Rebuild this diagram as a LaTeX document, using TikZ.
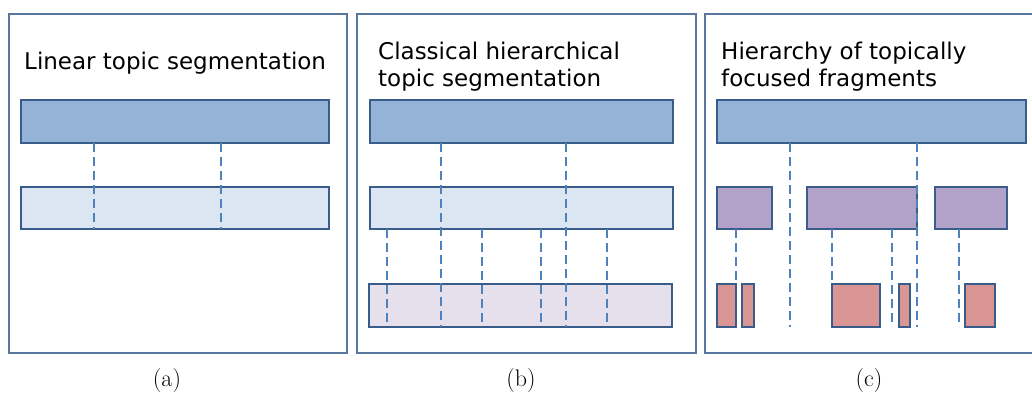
\documentclass[tikz,border=0pt]{standalone}
\usepackage{fontspec}
\newfontfamily\handfont{DejaVu Sans}
\usetikzlibrary{positioning}
\definecolor{barblue}{HTML}{95B3D7}
\definecolor{barlight}{HTML}{DCE6F2}
\definecolor{barlilac}{HTML}{E6E0EC}
\definecolor{barpurple}{HTML}{B3A2C7}
\definecolor{barred}{HTML}{D99694}
\definecolor{edgeblue}{HTML}{385D8A}
\definecolor{cutblue}{HTML}{4F81BD}
\definecolor{framegray}{HTML}{5A77A0}
\tikzset{
	panel/.style={draw=framegray, line width=1.4pt, anchor=north west, inner sep=0pt, outer sep=0pt, minimum height=339pt},
	bar/.style={draw=edgeblue, line width=1.8pt, anchor=north west, inner sep=0pt, outer sep=0pt},
	cut/.style={draw=cutblue, line width=2.8pt, dash pattern=on 9pt off 5pt},
	title/.style={anchor=north west, inner sep=0pt, align=left, font=\handfont\fontsize{23}{27}\selectfont},
	caption/.style={font=\fontsize{24}{28}\selectfont}
}

\begin{document}
\begin{tikzpicture}[x=1pt,y=-1pt]
\clip (0,0) rectangle (1032,394);

% frames
\node[panel, minimum width=338pt] (frameA) at (9,14) {};
\node[panel, minimum width=339pt] (frameB) at (357,14) {};
\node[panel, minimum width=340pt] (frameC) at (705,14) {};

\node[title] (titleA) at (24,52) {Linear topic segmentation};
\node[title] (titleB) at (378,42) {Classical hierarchical\\topic segmentation};
\node[title] (titleC) at (721,42) {Hierarchy of topically\\focused fragments};

% (a)
\node[bar, fill=barblue, minimum width=308pt, minimum height=43pt] (darkA) at (21,100) {};
\node[bar, fill=barlight, minimum width=308pt, minimum height=42pt] (lightA) at (21,187) {};

% (b)
\node[bar, fill=barblue, minimum width=303pt, minimum height=43pt] (darkB) at (370,100) {};
\node[bar, fill=barlight, minimum width=303pt, minimum height=42pt] (lightB) at (370,187) {};
\node[bar, fill=barlilac, minimum width=303pt, minimum height=43pt] (lilacB) at (369,284) {};

% (c)
\node[bar, fill=barblue, minimum width=309pt, minimum height=43pt] (darkC) at (717,100) {};
\node[bar, fill=barpurple, minimum width=55pt, minimum height=42pt] (midC1) at (717,187) {};
\node[bar, fill=barpurple, minimum width=110pt, minimum height=42pt] (midC2) at (807,187) {};
\node[bar, fill=barpurple, minimum width=72pt, minimum height=42pt] (midC3) at (935,187) {};
\node[bar, fill=barred, minimum width=19pt, minimum height=43pt] (lowC1) at (717,284) {};
\node[bar, fill=barred, minimum width=12pt, minimum height=43pt] (lowC2) at (742,284) {};
\node[bar, fill=barred, minimum width=48pt, minimum height=43pt] (lowC3) at (832,284) {};
\node[bar, fill=barred, minimum width=11pt, minimum height=43pt] (lowC4) at (899,284) {};
\node[bar, fill=barred, minimum width=30pt, minimum height=43pt] (lowC5) at (965,284) {};

% cut positions
\coordinate (xA1) at (94,0);
\coordinate (xA2) at (221,0);
\coordinate (xB1) at (441,0);
\coordinate (xB2) at (566,0);
\coordinate (xB3) at (387,0);
\coordinate (xB4) at (482,0);
\coordinate (xB5) at (541,0);
\coordinate (xB6) at (607,0);
\coordinate (xC1) at (790,0);
\coordinate (xC2) at (917,0);
\coordinate (xC3) at (736,0);
\coordinate (xC4) at (892,0);
\coordinate (xC5) at (959,0);

\draw[cut] (xA1 |- darkA.south) -- (xA1 |- lightA.south);
\draw[cut] (xA2 |- darkA.south) -- (xA2 |- lightA.south);

\draw[cut] (xB1 |- darkB.south) -- (xB1 |- lilacB.south);
\draw[cut] (xB2 |- darkB.south) -- (xB2 |- lilacB.south);
\draw[cut] (xB3 |- lightB.south) -- (xB3 |- lilacB.south);
\draw[cut] (xB4 |- lightB.south) -- (xB4 |- lilacB.south);
\draw[cut] (xB5 |- lightB.south) -- (xB5 |- lilacB.south);
\draw[cut] (xB6 |- lightB.south) -- (xB6 |- lilacB.south);

\draw[cut] (xC1 |- darkC.south) -- (xC1 |- lowC1.south);
\draw[cut] (xC2 |- darkC.south) -- (xC2 |- lowC1.south);
\draw[cut] (midC1.south -| xC3) -- (lowC1.north east);
\draw[cut] (midC2.south -| lowC3.west) -- (lowC3.north west);
\draw[cut] (xC4 |- midC2.south) -- (xC4 |- lowC4.south);
\draw[cut] (xC5 |- midC3.south) -- (xC5 |- lowC5.south);

\node[caption] (capA) at (167,381) {(a)};
\node[caption] (capB) at (521,381) {(b)};
\node[caption] (capC) at (869,381) {(c)};
\end{tikzpicture}
\end{document}
